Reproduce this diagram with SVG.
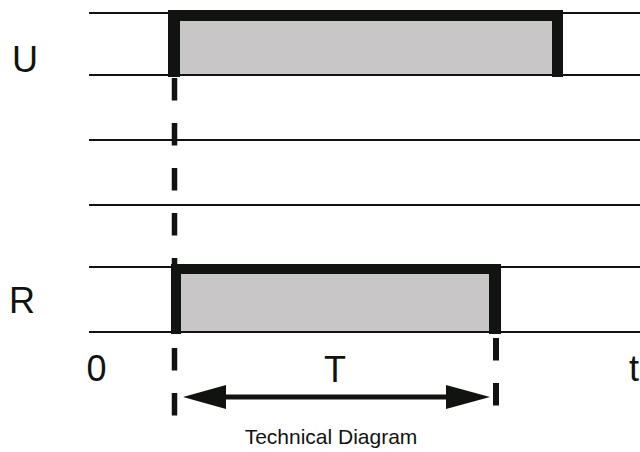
<svg xmlns="http://www.w3.org/2000/svg" width="640" height="452" viewBox="0 0 640 452">
  <style>
    .axis { stroke: #111311; stroke-width: 2; fill: none; }
    .fill { fill: #c8c6c7; }
    .bar { fill: #111311; }
    .dash { stroke: #111311; stroke-dasharray: 22.5 22.5; fill: none; }
    .lbl { font-family: "Liberation Sans", Arial, sans-serif; font-size: 36px; fill: #111311; }
    .cap { font-family: "Liberation Sans", Arial, sans-serif; font-size: 21px; fill: #111311; }
  </style>
  <rect width="640" height="452" fill="#ffffff"/>
  <g id="axes">
    <line class="axis" x1="89" y1="13" x2="640" y2="13"/>
    <line class="axis" x1="89" y1="75" x2="640" y2="75"/>
    <line class="axis" x1="89" y1="140" x2="640" y2="140"/>
    <line class="axis" x1="89" y1="205" x2="640" y2="205"/>
    <line class="axis" x1="89" y1="267" x2="640" y2="267"/>
    <line class="axis" x1="89" y1="332" x2="640" y2="332"/>
  </g>
  <g id="pulse-U">
    <rect class="fill" x="180" y="21" width="372" height="53"/>
    <rect class="bar" x="168" y="10" width="395" height="11"/>
    <rect class="bar" x="168" y="10" width="12" height="67"/>
    <rect class="bar" x="552" y="10" width="11" height="67"/>
  </g>
  <g id="pulse-R">
    <rect class="fill" x="181" y="274" width="308" height="57"/>
    <rect class="bar" x="171" y="264" width="330" height="10"/>
    <rect class="bar" x="171" y="264" width="10" height="70"/>
    <rect class="bar" x="489" y="264" width="12" height="70"/>
  </g>
  <g id="connectors">
    <line class="dash" x1="174.5" y1="78" x2="174.5" y2="417" stroke-width="5.5"/>
    <line class="dash" x1="496" y1="338" x2="496" y2="407" stroke-width="6"/>
    <line x1="222" y1="397" x2="450" y2="397" stroke="#111311" stroke-width="5"/>
    <polygon class="bar" points="183,397 226,385 226,409"/>
    <polygon class="bar" points="490,397 446,385 446,409"/>
  </g>
  <g id="labels">
    <text class="lbl" x="12" y="72">U</text>
    <text class="lbl" x="9" y="313">R</text>
    <text class="lbl" x="86.5" y="381">0</text>
    <text class="lbl" x="335" y="381.5" text-anchor="middle">T</text>
    <text class="lbl" x="629" y="381">t</text>
    <text class="cap" x="331" y="444" text-anchor="middle">Technical Diagram</text>
  </g>
</svg>
